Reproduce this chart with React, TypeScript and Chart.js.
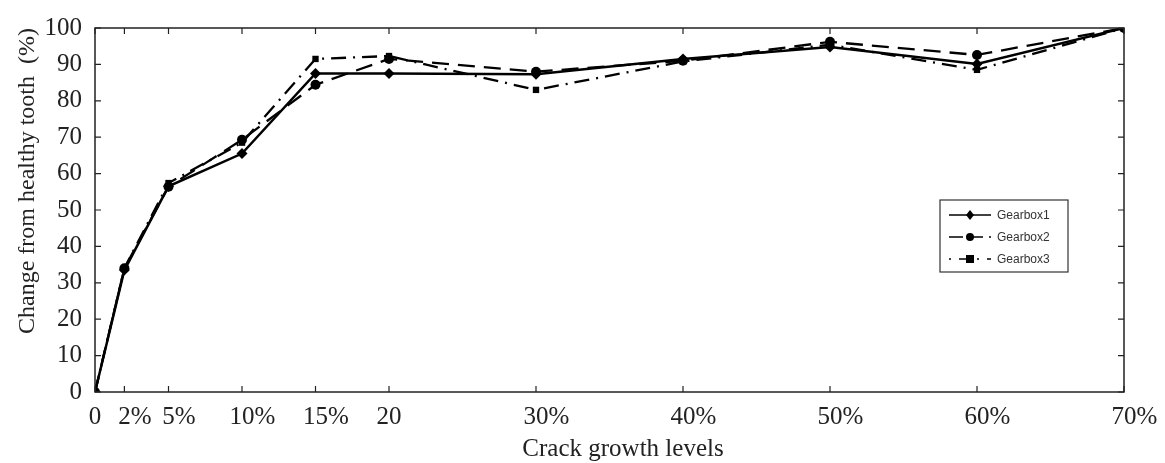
import React, { useEffect, useRef } from "react";
import { Chart, registerables } from "chart.js";

Chart.register(...registerables);

const crackLevels = [0, 2, 5, 10, 15, 20, 30, 40, 50, 60, 70];
const tickLabels = ["0", "2%", "5%", "10%", "15%", "20", "30%", "40%", "50%", "60%", "70%"];
const yTicks = [0, 10, 20, 30, 40, 50, 60, 70, 80, 90, 100];
const gearbox1 = [0, 33.5, 56.5, 65.5, 87.5, 87.5, 87.3, 91.5, 94.8, 90.1, 100];
const gearbox2 = [0, 34, 56.4, 69.3, 84.4, 91.5, 88, 91, 96.2, 92.6, 100];
const gearbox3 = [0, 34, 57.4, 68.5, 91.5, 92.3, 83, 90.8, 95.4, 88.5, 100];
const seriesNames = ["Gearbox1", "Gearbox2", "Gearbox3"];
const xTitle = "Crack growth levels";
const yTitle = "Change from healthy tooth  (%)";

const SERIF = "'Liberation Serif', 'Times New Roman', serif";

const styles = [
  { dash: [] as number[], point: "rectRot", radius: 5.5 },
  { dash: [17, 9], point: "circle", radius: 5 },
  { dash: [15, 7, 2, 7], point: "rect", radius: 4.5 },
];

const framePlugin = {
  id: "frame",
  afterDraw(chart: any) {
    const { ctx, chartArea: a, scales } = chart;
    const x = scales.x;
    const y = scales.y;
    ctx.save();
    ctx.strokeStyle = "#222";
    ctx.lineWidth = 1.5;
    ctx.setLineDash([]);
    ctx.strokeRect(a.left, a.top, a.right - a.left, a.bottom - a.top);
    const len = 6;
    ctx.lineWidth = 1.2;
    ctx.beginPath();
    crackLevels.forEach((v) => {
      const px = x.getPixelForValue(v);
      ctx.moveTo(px, a.bottom);
      ctx.lineTo(px, a.bottom - len);
      ctx.moveTo(px, a.top);
      ctx.lineTo(px, a.top + len);
    });
    yTicks.forEach((v) => {
      const py = y.getPixelForValue(v);
      ctx.moveTo(a.left, py);
      ctx.lineTo(a.left + len, py);
      ctx.moveTo(a.right, py);
      ctx.lineTo(a.right - len, py);
    });
    ctx.stroke();

    // x tick labels: number part centred on the tick, "%" hanging to the right
    ctx.fillStyle = "#222";
    ctx.font = `25px ${SERIF}`;
    ctx.textBaseline = "alphabetic";
    ctx.textAlign = "left";
    crackLevels.forEach((v, i) => {
      const lbl = tickLabels[i];
      const num = lbl.replace("%", "");
      const w = ctx.measureText(num).width;
      const px = x.getPixelForValue(v);
      ctx.fillText(lbl, px - w / 2, a.bottom + 32);
    });

    // axis titles
    ctx.textAlign = "center";
    ctx.font = `25px ${SERIF}`;
    ctx.fillText(xTitle, 623, 456);
    ctx.save();
    ctx.translate(34, 181);
    ctx.rotate(-Math.PI / 2);
    ctx.font = `24px ${SERIF}`;
    ctx.fillText(yTitle, 0, 0);
    ctx.restore();

    // legend box
    const bx = 940, by = 200, bw = 128, bh = 72;
    ctx.fillStyle = "#fff";
    ctx.fillRect(bx, by, bw, bh);
    ctx.strokeStyle = "#333";
    ctx.lineWidth = 1.2;
    ctx.strokeRect(bx, by, bw, bh);
    ctx.font = "12px 'Liberation Sans', Arial, sans-serif";
    ctx.textAlign = "left";
    ctx.textBaseline = "middle";
    seriesNames.forEach((name, i) => {
      const ry = by + 15 + i * 22;
      const s = styles[i];
      ctx.strokeStyle = "#000";
      ctx.lineWidth = 1.3;
      ctx.setLineDash(i === 0 ? [] : i === 1 ? [14, 6] : [2, 8, 10, 8]);
      ctx.beginPath();
      ctx.moveTo(949, ry);
      ctx.lineTo(991, ry);
      ctx.stroke();
      ctx.setLineDash([]);
      ctx.fillStyle = "#000";
      const mx = 970;
      ctx.beginPath();
      if (s.point === "rectRot") {
        ctx.moveTo(mx, ry - 5);
        ctx.lineTo(mx + 4, ry);
        ctx.lineTo(mx, ry + 5);
        ctx.lineTo(mx - 4, ry);
        ctx.closePath();
      } else if (s.point === "circle") {
        ctx.arc(mx, ry, 4, 0, Math.PI * 2);
      } else {
        ctx.rect(mx - 4, ry - 4, 8, 8);
      }
      ctx.fill();
      ctx.fillStyle = "#333";
      ctx.fillText(name, 997, ry + 1);
    });
    ctx.restore();
  },
};

export default function App() {
  const ref = useRef<HTMLCanvasElement>(null);
  useEffect(() => {
    document.body.style.margin = "0";
    const data = [gearbox1, gearbox2, gearbox3];
    const chart = new Chart(ref.current!, {
      type: "line",
      data: {
        datasets: data.map((vals, i) => ({
          label: seriesNames[i],
          data: crackLevels.map((c, j) => ({ x: c, y: vals[j] })),
          borderColor: "#000",
          backgroundColor: "#000",
          borderWidth: i === 0 ? 2.5 : 2.3,
          borderDash: styles[i].dash,
          pointStyle: styles[i].point as any,
          pointRadius: styles[i].radius,
          pointBorderWidth: 0,
          tension: 0,
        })),
      },
      options: {
        animation: false,
        responsive: false,
        layout: { padding: { top: 26, right: 41, left: 0, bottom: 0 } },
        plugins: { legend: { display: false }, tooltip: { enabled: false } },
        scales: {
          x: {
            type: "linear",
            min: 0,
            max: 70,
            afterBuildTicks: (s: any) => {
              s.ticks = crackLevels.map((v) => ({ value: v }));
            },
            afterFit: (s: any) => {
              s.height = 71;
            },
            grid: { display: false, drawTicks: false },
            border: { display: false },
            ticks: { display: false },
          },
          y: {
            min: 0,
            max: 100,
            afterBuildTicks: (s: any) => {
              s.ticks = yTicks.map((v) => ({ value: v }));
            },
            afterFit: (s: any) => {
              s.width = 95;
            },
            grid: { display: false, drawTicks: false },
            border: { display: false },
            ticks: {
              padding: 13,
              color: "#222",
              font: { family: SERIF, size: 25 },
            },
          },
        },
      },
      plugins: [framePlugin],
    });
    return () => chart.destroy();
  }, []);
  return (
    <div style={{ width: 1165, height: 463, background: "#fff" }}>
      <canvas ref={ref} width={1165} height={463} style={{ display: "block" }} />
    </div>
  );
}
